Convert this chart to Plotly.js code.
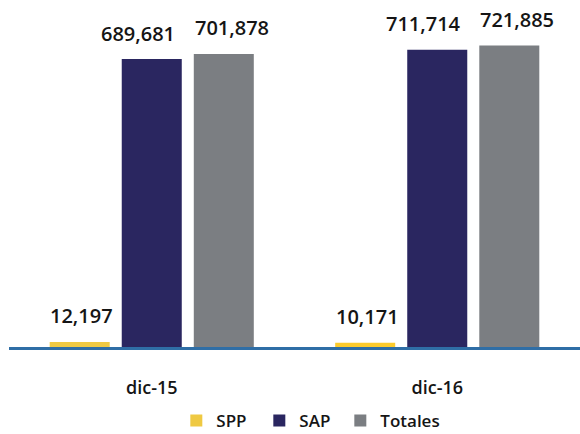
<!DOCTYPE html>
<html>
<head>
<meta charset="utf-8">
<script src="https://cdn.plot.ly/plotly-3.0.1.min.js"></script>
<style>html,body{margin:0;padding:0;background:#fff}#chart{width:580px;height:434px}</style>
</head>
<body>
<div id="chart"></div>
<script>
const categories = ['dic-15', 'dic-16'];
const seriesNames = ['SPP', 'SAP', 'Totales'];
const sppValues = [12197, 10171];
const sapValues = [689681, 711714];
const totValues = [701878, 721885];

const colors = {
  SPP: ['#EFC942', '#FDCB2B'],
  SAP: '#2A2660',
  Totales: '#7B7E82'
};
const legendWidths = { SPP: 38, SAP: 36, Totales: 80 };
const labelXShift = { SPP: -70, SAP: -14, Totales: 80 };
const labelYShift = 26;

const valuesBySeries = { SPP: sppValues, SAP: sapValues, Totales: totValues };

const traces = seriesNames.map(name => ({
  type: 'bar',
  name: name,
  x: categories,
  y: valuesBySeries[name],
  marker: { color: colors[name] },
  legendwidth: legendWidths[name],
  hoverinfo: 'none'
}));

const annotations = [];
seriesNames.forEach(name => {
  valuesBySeries[name].forEach((v, i) => {
    annotations.push({
      x: categories[i], y: v, xref: 'x', yref: 'y',
      text: v.toLocaleString('en-US'),
      showarrow: false,
      xanchor: 'center', yanchor: 'middle',
      xshift: labelXShift[name], yshift: labelYShift,
      font: { family: 'Open Sans, sans-serif', size: 20, color: '#151515', weight: 600 }
    });
  });
});

const layout = {
  width: 580, height: 434,
  margin: { l: 9, r: 0, t: 13, b: 87 },
  paper_bgcolor: '#ffffff', plot_bgcolor: '#ffffff',
  barmode: 'group',
  bargap: 0.243,
  bargroupgap: 0.167,
  showlegend: true,
  legend: {
    orientation: 'h',
    xref: 'container', yref: 'container',
    x: 0.304, xanchor: 'left',
    y: 0.03, yanchor: 'middle',
    font: { family: 'Open Sans, sans-serif', size: 17, color: '#151515', weight: 600 },
    traceorder: 'normal'
  },
  xaxis: {
    type: 'category',
    showline: true, linecolor: '#2F6EA6', linewidth: 3,
    showgrid: false, zeroline: false,
    ticks: 'outside', ticklen: 22, tickcolor: 'rgba(0,0,0,0)',
    tickfont: { family: 'Open Sans, sans-serif', size: 18, color: '#151515', weight: 600 }
  },
  yaxis: {
    range: [0, 800000],
    visible: false, showgrid: false, zeroline: false
  },
  annotations: annotations
};

Plotly.newPlot('chart', traces, layout, { displayModeBar: false, staticPlot: true });
</script>
</body>
</html>
